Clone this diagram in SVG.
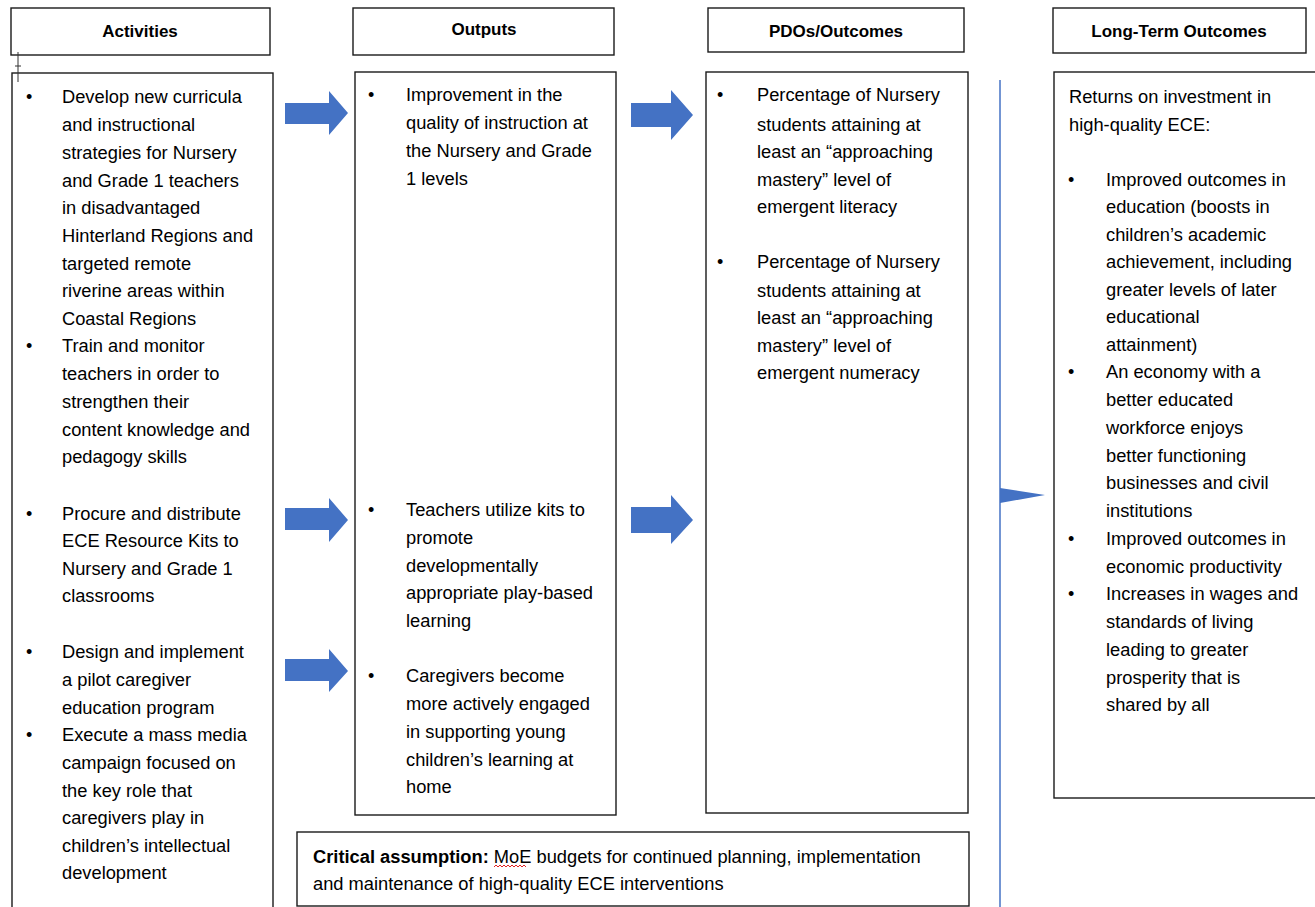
<svg xmlns="http://www.w3.org/2000/svg" width="1315" height="907" viewBox="0 0 1315 907">
<style>
.box{fill:#fff;stroke:#1a1a1a;stroke-width:1.4}
.hd{font-family:"Liberation Sans",Arial,sans-serif;font-weight:bold;font-size:17px;fill:#000;text-anchor:middle}
.t{font-family:"Liberation Sans",Arial,sans-serif;font-size:18.3px;fill:#000}
.b{font-family:"Liberation Sans",Arial,sans-serif;font-size:18px;fill:#000}
.arr{fill:#4472c4}
</style>
<rect width="1315" height="907" fill="#fff"/>
<g id="activities">
<rect class="box" x="11" y="8" width="259" height="47"/>
<text class="hd" x="140" y="37">Activities</text>
<rect class="box" x="12" y="73" width="261" height="850"/>
<path d="M18 52V82M15 66H21" stroke="#333" stroke-width="1" fill="none"/>
<g class="b"><text x="26" y="103">•</text><text x="26" y="352">•</text><text x="26" y="520">•</text><text x="26" y="658">•</text><text x="26" y="741">•</text></g>
<g class="t">
<text x="62" y="103">Develop new curricula</text>
<text x="62" y="131">and instructional</text>
<text x="62" y="159">strategies for Nursery</text>
<text x="62" y="187">and Grade 1 teachers</text>
<text x="62" y="214">in disadvantaged</text>
<text x="62" y="242">Hinterland Regions and</text>
<text x="62" y="270">targeted remote</text>
<text x="62" y="297">riverine areas within</text>
<text x="62" y="325">Coastal Regions</text>
<text x="62" y="352">Train and monitor</text>
<text x="62" y="380">teachers in order to</text>
<text x="62" y="408">strengthen their</text>
<text x="62" y="436">content knowledge and</text>
<text x="62" y="463">pedagogy skills</text>
<text x="62" y="520">Procure and distribute</text>
<text x="62" y="547">ECE Resource Kits to</text>
<text x="62" y="575">Nursery and Grade 1</text>
<text x="62" y="602">classrooms</text>
<text x="62" y="658">Design and implement</text>
<text x="62" y="686">a pilot caregiver</text>
<text x="62" y="714">education program</text>
<text x="62" y="741">Execute a mass media</text>
<text x="62" y="769">campaign focused on</text>
<text x="62" y="797">the key role that</text>
<text x="62" y="824">caregivers play in</text>
<text x="62" y="852">children’s intellectual</text>
<text x="62" y="879">development</text>
</g>
</g>
<g id="outputs">
<rect class="box" x="353" y="8" width="261" height="47"/>
<text class="hd" x="484" y="35">Outputs</text>
<rect class="box" x="355" y="72" width="261" height="743"/>
<g class="b"><text x="368" y="101">•</text><text x="368" y="516">•</text><text x="368" y="682">•</text></g>
<g class="t">
<text x="406" y="101">Improvement in the</text>
<text x="406" y="129">quality of instruction at</text>
<text x="406" y="157">the Nursery and Grade</text>
<text x="406" y="185">1 levels</text>
<text x="406" y="516">Teachers utilize kits to</text>
<text x="406" y="544">promote</text>
<text x="406" y="572">developmentally</text>
<text x="406" y="599">appropriate play-based</text>
<text x="406" y="627">learning</text>
<text x="406" y="682">Caregivers become</text>
<text x="406" y="710">more actively engaged</text>
<text x="406" y="738">in supporting young</text>
<text x="406" y="766">children’s learning at</text>
<text x="406" y="793">home</text>
</g>
</g>
<g id="pdos">
<rect class="box" x="708" y="8" width="256" height="44"/>
<text class="hd" x="836" y="37">PDOs/Outcomes</text>
<rect class="box" x="706" y="72" width="262" height="741"/>
<g class="b"><text x="717" y="101">•</text><text x="717" y="268">•</text></g>
<g class="t">
<text x="757" y="101">Percentage of Nursery</text>
<text x="757" y="131">students attaining at</text>
<text x="757" y="158">least an “approaching</text>
<text x="757" y="186">mastery” level of</text>
<text x="757" y="213">emergent literacy</text>
<text x="757" y="268">Percentage of Nursery</text>
<text x="757" y="297">students attaining at</text>
<text x="757" y="324">least an “approaching</text>
<text x="757" y="352">mastery” level of</text>
<text x="757" y="379">emergent numeracy</text>
</g>
</g>
<g id="longterm">
<rect class="box" x="1053" y="8" width="253" height="45"/>
<text class="hd" x="1179" y="37">Long-Term Outcomes</text>
<rect class="box" x="1054" y="72" width="270" height="726"/>
<g class="b"><text x="1068" y="186">•</text><text x="1068" y="378">•</text><text x="1068" y="545">•</text><text x="1068" y="600">•</text></g>
<g class="t">
<text x="1069" y="103">Returns on investment in</text>
<text x="1069" y="131">high-quality ECE:</text>
<text x="1106" y="186">Improved outcomes in</text>
<text x="1106" y="213">education (boosts in</text>
<text x="1106" y="241">children’s academic</text>
<text x="1106" y="268">achievement, including</text>
<text x="1106" y="296">greater levels of later</text>
<text x="1106" y="323">educational</text>
<text x="1106" y="351">attainment)</text>
<text x="1106" y="378">An economy with a</text>
<text x="1106" y="406">better educated</text>
<text x="1106" y="434">workforce enjoys</text>
<text x="1106" y="462">better functioning</text>
<text x="1106" y="489">businesses and civil</text>
<text x="1106" y="517">institutions</text>
<text x="1106" y="545">Improved outcomes in</text>
<text x="1106" y="573">economic productivity</text>
<text x="1106" y="600">Increases in wages and</text>
<text x="1106" y="628">standards of living</text>
<text x="1106" y="656">leading to greater</text>
<text x="1106" y="684">prosperity that is</text>
<text x="1106" y="711">shared by all</text>
</g>
</g>
<g id="assumption">
<rect class="box" x="297" y="832" width="672" height="74"/>
<text class="t" x="313" y="863"><tspan font-weight="bold">Critical assumption:</tspan> MoE budgets for continued planning, implementation</text>
<text class="t" x="313" y="890">and maintenance of high-quality ECE interventions</text>
<path d="M494 867l2 -2 2 2 2 -2 2 2 2 -2 2 2 2 -2 2 2 2 -2 2 2 2 -2 2 2 2 -2 2 2 2 -2 2 2" stroke="#e02020" stroke-width="1" fill="none"/>
</g>
<g id="connectors">
<polygon class="arr" points="285,103 329,103 329,91 348,113 329,135 329,124 285,124"/>
<polygon class="arr" points="631,103 671,103 671,90 693,115 671,140 671,127 631,127"/>
<polygon class="arr" points="285,508 329,508 329,498 348,520 329,542 329,530 285,530"/>
<polygon class="arr" points="631,507 671,507 671,495 693,520 671,544 671,533 631,533"/>
<polygon class="arr" points="285,659 329,659 329,649 348,671 329,692 329,681 285,681"/>
<line x1="1000" y1="80" x2="1000" y2="907" stroke="#4472c4" stroke-width="1.5"/>
<polygon class="arr" points="1000,488 1045,495 1000,503"/>
</g>
</svg>
